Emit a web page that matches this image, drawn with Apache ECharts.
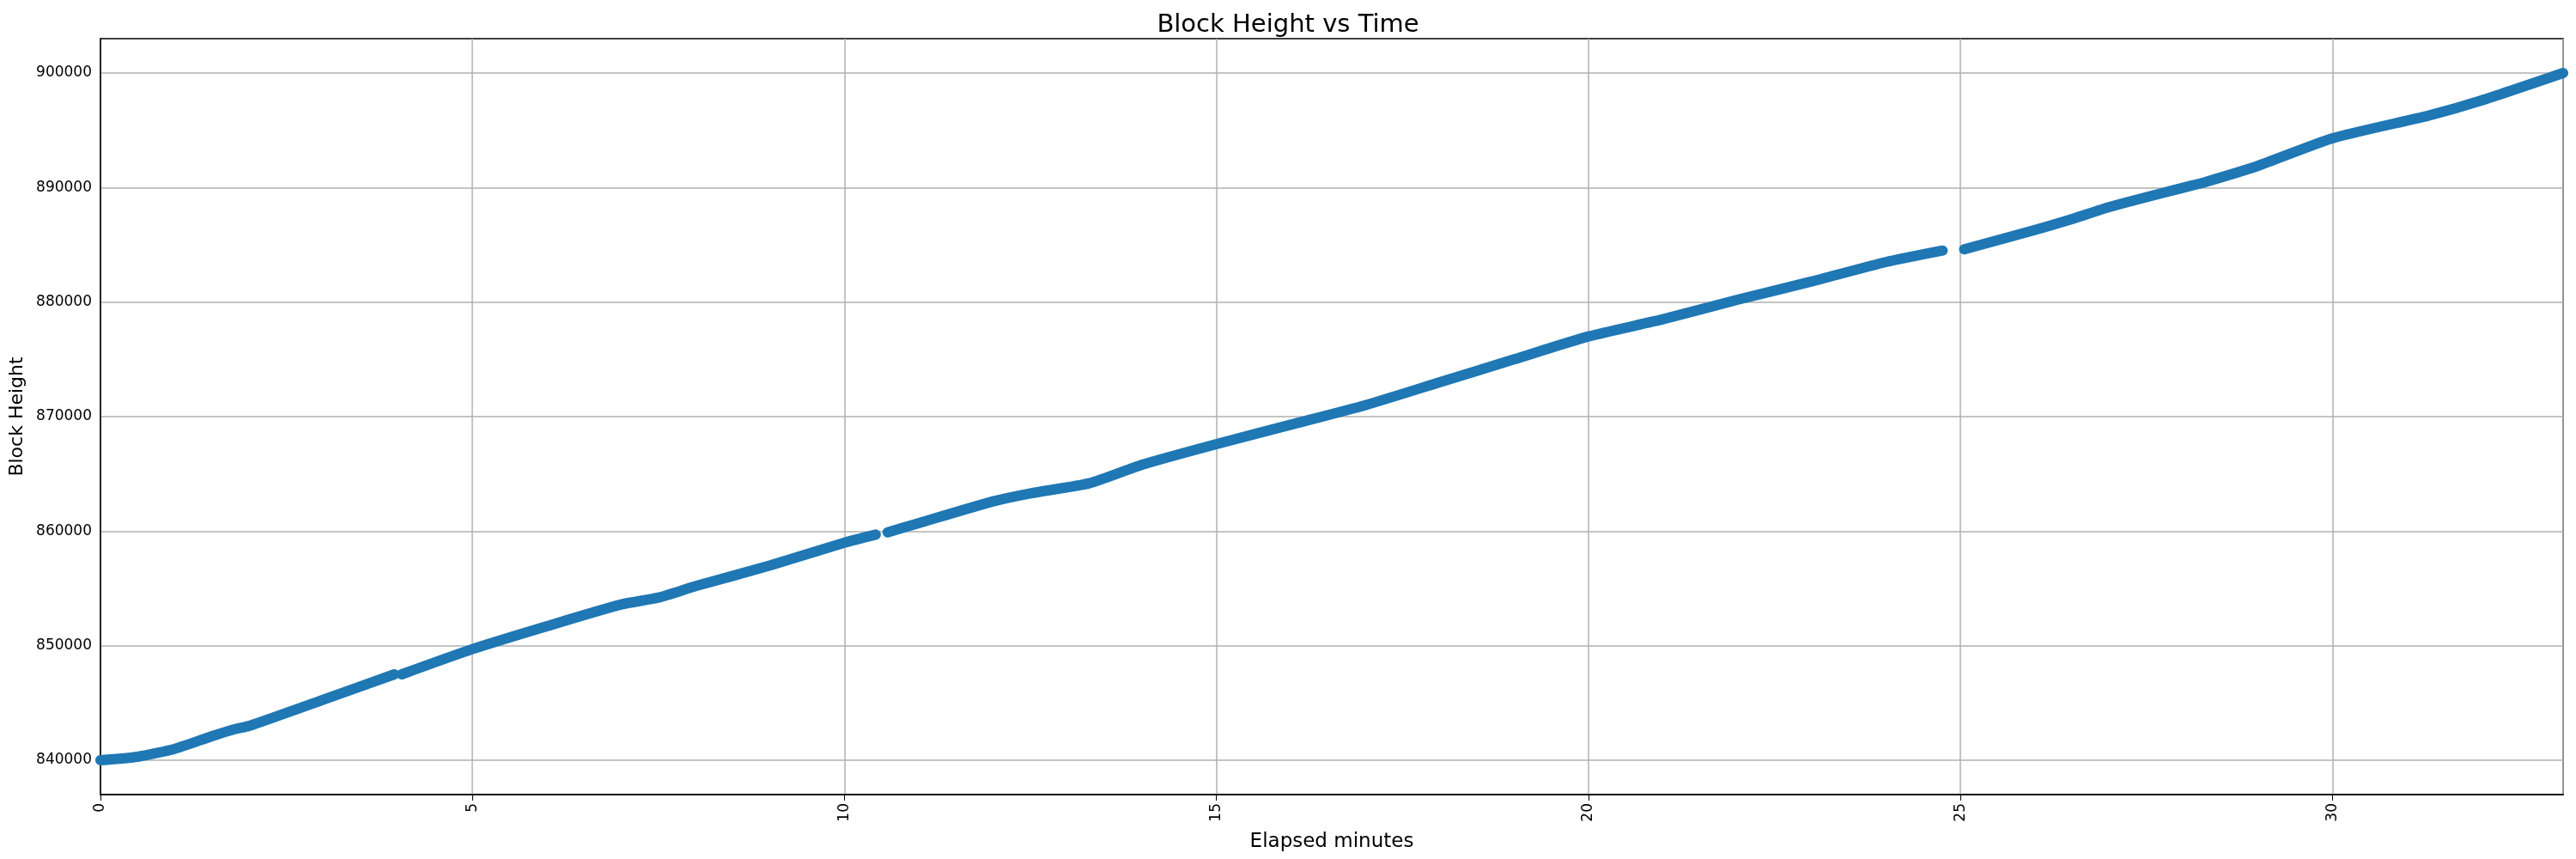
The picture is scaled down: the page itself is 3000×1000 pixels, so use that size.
<!DOCTYPE html>
<html><head><meta charset="utf-8">
<script src="https://cdn.jsdelivr.net/npm/echarts@6/dist/echarts.min.js"></script>
<style>html,body{margin:0;padding:0;background:#fff}#c{width:3000px;height:1000px}</style>
</head><body><div id="c"></div>
<script>
const minutes = [0,0.5,1,1.5,1.8,2,3,3.95,null,4.05,5,6,7,7.5,8,9,10,10.42,null,10.58,11,12,12.5,13.3,14,15,16,17,18,19,20,21,22,23,24,24.76,null,25.05,26,26.5,27,28,28.3,29,30,31.3,32,33.1];
const heights = [840000,840300,841000,842100,842700,843000,845300,847500,null,847500,849700,851700,853600,854200,855200,857000,859000,859700,null,859900,860700,862600,863300,864200,865800,867600,869300,871000,873000,875000,877000,878500,880200,881800,883500,884500,null,884600,886300,887250,888300,890000,890500,891900,894300,896300,897600,900000];
const data = minutes.map((m,i)=> m===null ? [null,null] : [m,heights[i]]);
const font = 'DejaVu Sans';
const gridColors = [];
for (let i=0;i<10;i++) gridColors.push(i===3 ? '#b0b0b0' : 'rgba(0,0,0,0)');
const chart = echarts.init(document.getElementById('c'));
chart.setOption({
  animation:false,
  title:{text:'Block Height vs Time',left:'center',top:10,textStyle:{fontFamily:font,fontSize:29,fontWeight:'normal',color:'#000'}},
  grid:{left:117,right:15,top:45,bottom:75,outerBoundsMode:'none',containLabel:false,show:true,borderColor:'#000',borderWidth:1.5,backgroundColor:'transparent'},
  xAxis:{type:'value',min:0,max:33.1,interval:5,name:'Elapsed minutes',nameLocation:'middle',nameGap:44,
    nameTextStyle:{fontFamily:font,fontSize:23,color:'#000'},
    axisLine:{onZero:false,lineStyle:{color:'#000',width:1.5}},axisTick:{show:true,length:7,lineStyle:{color:'#000'}},
    axisLabel:{rotate:90,fontFamily:font,fontSize:17,color:'#000',margin:10,showMaxLabel:false},
    splitLine:{show:true,lineStyle:{color:'#b0b0b0',width:1.5}}},
  yAxis:{type:'value',min:837000,max:903000,interval:1000,name:'Block Height',nameLocation:'middle',nameGap:80,
    nameTextStyle:{fontFamily:font,fontSize:22,color:'#000'},
    axisLine:{show:true,lineStyle:{color:'#000',width:1.5}},axisTick:{show:false},
    axisLabel:{fontFamily:font,fontSize:17,color:'#000',margin:10,
      formatter:v=> (v%10000===0 ? String(v) : '')},
    splitLine:{show:true,lineStyle:{color:gridColors,width:1.5}}},
  series:[{type:'line',data:data,showSymbol:false,connectNulls:false,smooth:0.2,
    lineStyle:{color:'#1f77b4',width:12,cap:'round',join:'round'}}]
});
</script></body></html>
